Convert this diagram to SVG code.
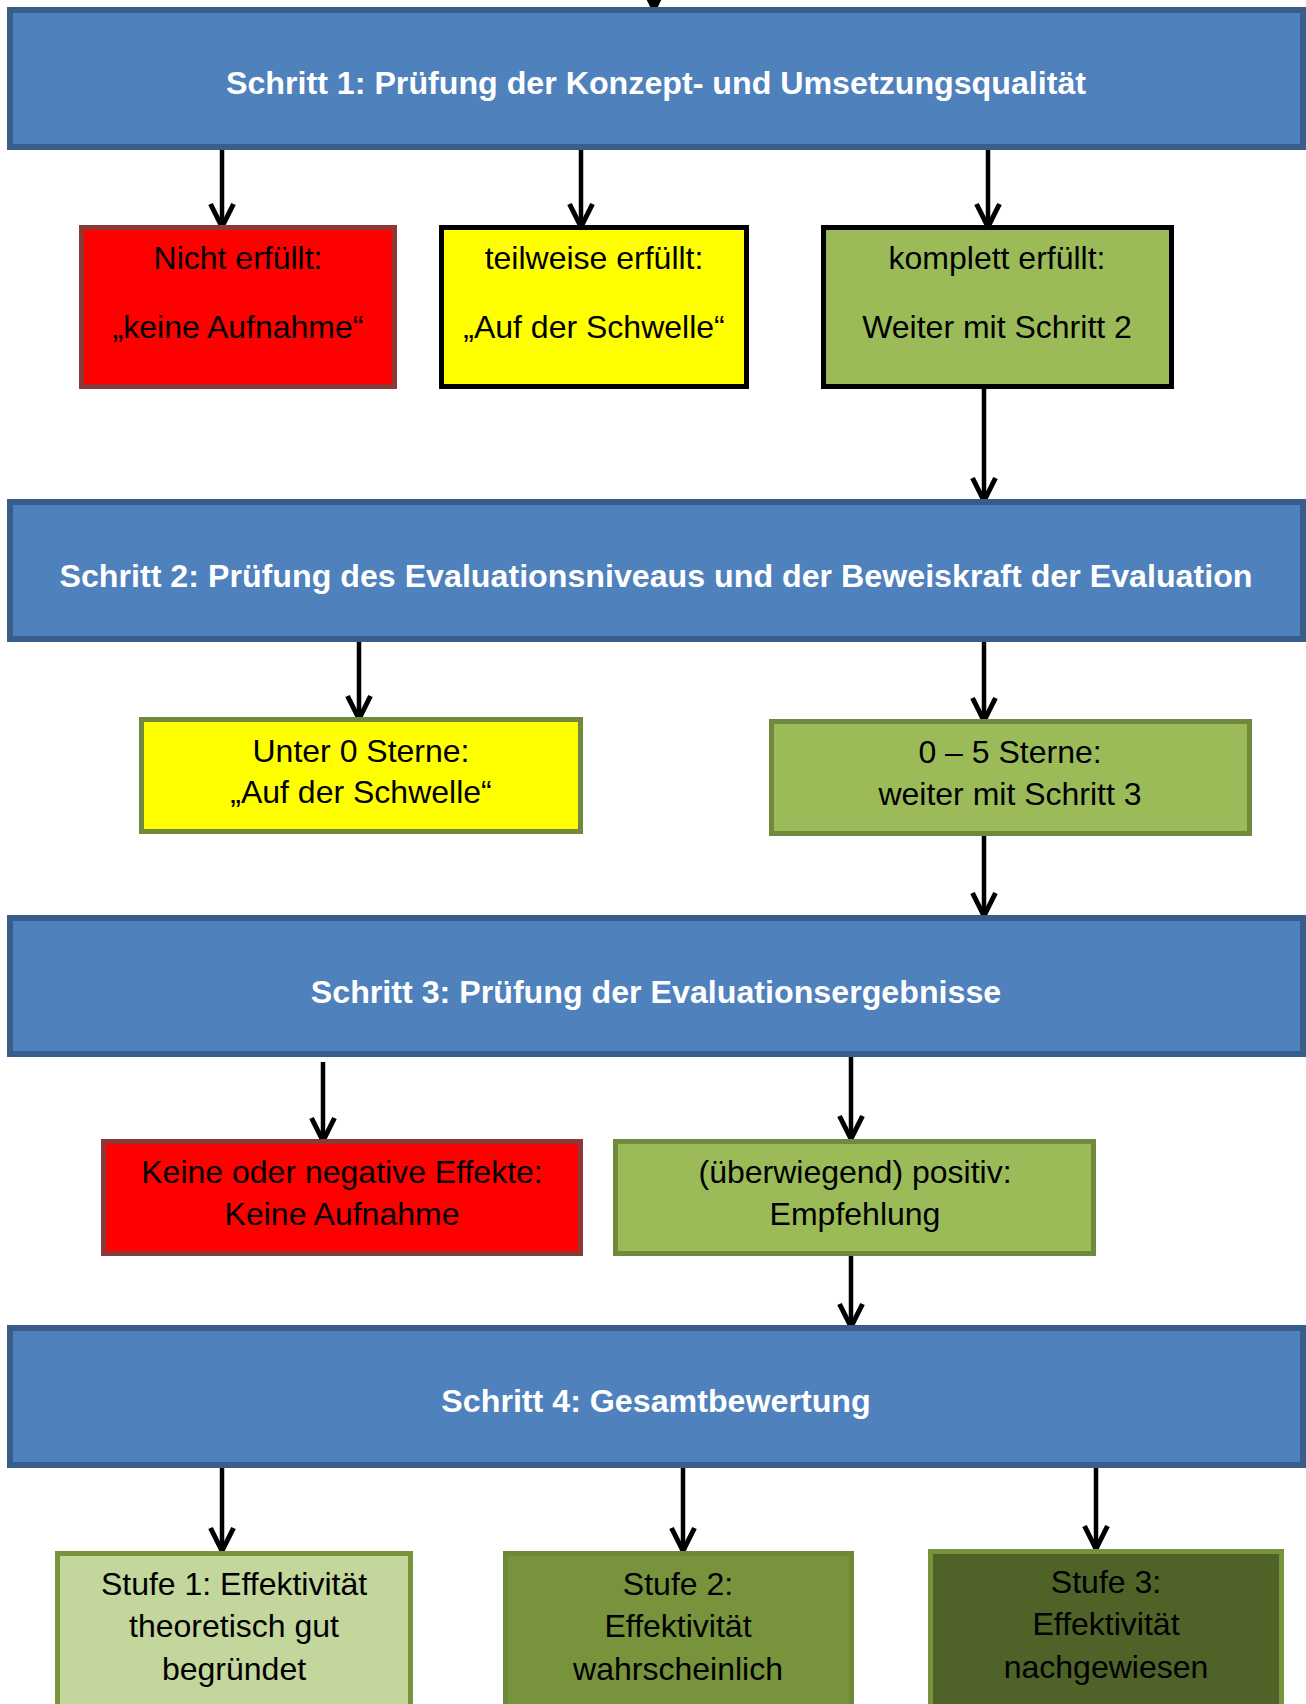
<svg xmlns="http://www.w3.org/2000/svg" width="1306" height="1704" viewBox="0 0 1306 1704">
<defs>
<style>
.step{fill:#4f81bd;stroke:#385d8a;stroke-width:6}
.red{fill:#ff0000;stroke:#8c3836;stroke-width:5}
.yel{fill:#ffff00;stroke:#000;stroke-width:5}
.grn{fill:#9bbb59;stroke:#000;stroke-width:5}
.yel2{fill:#ffff00;stroke:#71893f;stroke-width:5}
.grn2{fill:#9bbb59;stroke:#71893f;stroke-width:5}
.s1{fill:#c3d69b;stroke:#77933c;stroke-width:5}
.s2{fill:#77933c;stroke:#6c8a36;stroke-width:5}
.s3{fill:#4f6228;stroke:#77933c;stroke-width:5}
.h{font-family:"Liberation Sans",Arial,sans-serif;font-size:32.2px;font-weight:bold;fill:#fff;text-anchor:middle}
.t{font-family:"Liberation Sans",Arial,sans-serif;font-size:32px;fill:#000;text-anchor:middle}
.c{stroke:#000;stroke-width:4.5;fill:none;marker-end:url(#arr)}
</style>
<marker id="arr" markerUnits="userSpaceOnUse" markerWidth="34" markerHeight="34" viewBox="-28 -17 34 34" refX="0" refY="0" orient="auto">
<path d="M-24,-11.5 L-1,0 L-24,11.5" fill="none" stroke="#000" stroke-width="5" stroke-linejoin="miter"/>
</marker>
</defs>

<g id="connectors">
<line class="c" x1="654" y1="-20" x2="654" y2="10"/>
<line class="c" x1="222" y1="150" x2="222" y2="228"/>
<line class="c" x1="581" y1="150" x2="581" y2="228"/>
<line class="c" x1="988" y1="150" x2="988" y2="228"/>
<line class="c" x1="984" y1="389" x2="984" y2="502"/>
<line class="c" x1="359" y1="642" x2="359" y2="720"/>
<line class="c" x1="984" y1="642" x2="984" y2="722"/>
<line class="c" x1="984" y1="836" x2="984" y2="917"/>
<line class="c" x1="323" y1="1062" x2="323" y2="1142"/>
<line class="c" x1="851" y1="1057" x2="851" y2="1140"/>
<line class="c" x1="851" y1="1256" x2="851" y2="1328"/>
<line class="c" x1="222" y1="1468" x2="222" y2="1552"/>
<line class="c" x1="683" y1="1468" x2="683" y2="1552"/>
<line class="c" x1="1096" y1="1468" x2="1096" y2="1550"/>
</g>

<g id="step1">
<rect class="step" x="10" y="10" width="1293" height="137"/>
<text class="h" x="656" y="94">Schritt 1: Prüfung der Konzept- und Umsetzungsqualität</text>
</g>
<g id="s1-nicht">
<rect class="red" x="81.5" y="227.5" width="313" height="159"/>
<text class="t" x="238" y="269">Nicht erfüllt:</text>
<text class="t" x="238" y="338">„keine Aufnahme“</text>
</g>
<g id="s1-teilweise">
<rect class="yel" x="441.5" y="227.5" width="305" height="159"/>
<text class="t" x="594" y="269">teilweise erfüllt:</text>
<text class="t" x="594" y="338">„Auf der Schwelle“</text>
</g>
<g id="s1-komplett">
<rect class="grn" x="823.5" y="227.5" width="348" height="159"/>
<text class="t" x="997" y="269">komplett erfüllt:</text>
<text class="t" x="997" y="338">Weiter mit Schritt 2</text>
</g>

<g id="step2">
<rect class="step" x="10" y="502" width="1293" height="137"/>
<text class="h" x="656" y="587">Schritt 2: Prüfung des Evaluationsniveaus und der Beweiskraft der Evaluation</text>
</g>
<g id="s2-unter">
<rect class="yel2" x="141.5" y="719.5" width="439" height="112"/>
<text class="t" x="361" y="762">Unter 0 Sterne:</text>
<text class="t" x="361" y="803">„Auf der Schwelle“</text>
</g>
<g id="s2-sterne">
<rect class="grn2" x="771.5" y="721.5" width="478" height="112"/>
<text class="t" x="1010" y="763">0 – 5 Sterne:</text>
<text class="t" x="1010" y="805">weiter mit Schritt 3</text>
</g>

<g id="step3">
<rect class="step" x="10" y="918" width="1293" height="136"/>
<text class="h" x="656" y="1003">Schritt 3: Prüfung der Evaluationsergebnisse</text>
</g>
<g id="s3-keine">
<rect class="red" x="103.5" y="1141.5" width="477" height="112"/>
<text class="t" x="342" y="1183">Keine oder negative Effekte:</text>
<text class="t" x="342" y="1225">Keine Aufnahme</text>
</g>
<g id="s3-positiv">
<rect class="grn2" x="615.5" y="1141.5" width="478" height="112"/>
<text class="t" x="855" y="1183">(überwiegend) positiv:</text>
<text class="t" x="855" y="1225">Empfehlung</text>
</g>

<g id="step4">
<rect class="step" x="10" y="1328" width="1293" height="137"/>
<text class="h" x="656" y="1412">Schritt 4: Gesamtbewertung</text>
</g>
<g id="stufe1">
<rect class="s1" x="57.5" y="1553.5" width="353" height="200"/>
<text class="t" x="234" y="1595">Stufe 1: Effektivität</text>
<text class="t" x="234" y="1637">theoretisch gut</text>
<text class="t" x="234" y="1680">begründet</text>
</g>
<g id="stufe2">
<rect class="s2" x="505.5" y="1553.5" width="346" height="200"/>
<text class="t" x="678" y="1595">Stufe 2:</text>
<text class="t" x="678" y="1637">Effektivität</text>
<text class="t" x="678" y="1680">wahrscheinlich</text>
</g>
<g id="stufe3">
<rect class="s3" x="930.5" y="1551.5" width="351" height="200"/>
<text class="t" x="1106" y="1593">Stufe 3:</text>
<text class="t" x="1106" y="1635">Effektivität</text>
<text class="t" x="1106" y="1678">nachgewiesen</text>
</g>
</svg>
